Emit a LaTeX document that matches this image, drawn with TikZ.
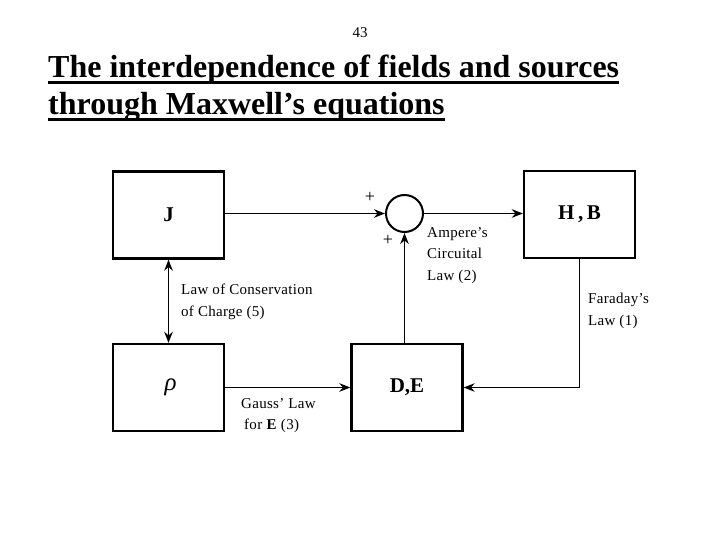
\documentclass[tikz,border=0pt]{standalone}
\usepackage{fontspec}
\setmainfont{Liberation Serif}
\newfontfamily\leifonte[LetterSpace=2]{Liberation Serif}
\usetikzlibrary{arrows.meta}

% sublinhado grosso do titulo
\newcommand{\sublinhado}[1]{\setbox0=\hbox{#1}\rlap{\rule[-6pt]{\wd0}{2.8pt}}\box0}

\tikzset{
  caixa/.style={draw, line width=2.3pt, minimum width=111pt, minimum height=87pt, inner sep=0pt, font=\fontsize{21}{24}\selectfont\bfseries},
  soma/.style={draw, circle, line width=2pt, minimum size=37pt, inner sep=0pt},
  seta/.style={line width=1.8pt, -{Stealth[length=11pt, width=8.5pt]}},
  lei/.style={anchor=north west, inner sep=0pt, align=left, font=\leifonte\fontsize{15}{21.5}\selectfont},
  sinal/.style={inner sep=0pt, font=\fontsize{18}{18}\selectfont}
}

\begin{document}
\begin{tikzpicture}[x=1pt, y=-1pt]
        \useasboundingbox (0,0) rectangle (720,540);

        % Numero e titulo
        \node[inner sep=0pt, font=\fontsize{15}{15}\selectfont] (num) at (360,33) {43};
        \node[anchor=base west, inner sep=0pt, align=left, font=\fontsize{32}{37}\selectfont\bfseries] (titulo) at (48,115)
          {\sublinhado{The interdependence of fields and sources}\\ \sublinhado{through Maxwell’s equations}};

        % Caixas das fontes e dos campos
        \node[caixa] (J) at (168.5,215) {J};
        \node[caixa] (HB) at (579.5,214.5) {H\,,\,B};
        \node[caixa] (rho) at (168.5,387.5) {\hspace{4pt}\raisebox{2pt}{\fontsize{25}{25}\selectfont\mdseries\itshape ρ}};
        \node[caixa] (DE) at (407,387.5) {D,E};

        % Somador
        \node[soma] (S) at (404.5,213.5) {};
        \node[sinal] (mais1) at (370,197) {+};
        \node[sinal] (mais2) at (388,240) {+};

        % Setas entre as caixas
        \draw[seta] (J.east |- S.west) -- (S.west);
        \draw[seta] (S.east) -- (HB.west |- S.east);
        \draw[seta, {Stealth[length=11pt, width=8.5pt]}-{Stealth[length=11pt, width=8.5pt]}] (J.south) -- (rho.north);
        \draw[seta] (rho.east) -- (DE.west);
        \draw[seta] (DE.north -| S.south) -- (S.south);
        \draw[seta, line width=1.4pt] (HB.south) |- (DE.east);

        % Leis
        \node[lei] (conserv) at (181,284) {Law of Conservation\\of Charge (5)};
        \node[lei] (gauss) at (241,398) {Gauss’ Law\\\hspace{3pt}for \textbf{E} (3)};
        \node[lei] (ampere) at (427,227) {Ampere’s\\Circuital\\Law (2)};
        \node[lei] (faraday) at (588,293) {Faraday’s\\Law (1)};
      \end{tikzpicture}
\end{document}
